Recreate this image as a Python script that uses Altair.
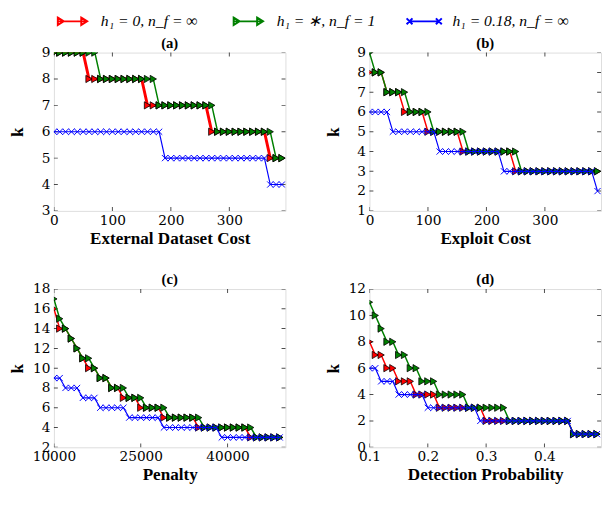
import altair as alt
import pandas as pd

SERIES = ["h₁ = 0, n_f = ∞", "h₁ = ∗, n_f = 1", "h₁ = 0.18, n_f = ∞"]
COLORS = ["#ff0000", "#008000", "#0000ff"]

# ---- panel (a): External Dataset Cost ----
x_a = [0, 10, 20, 30, 40, 50, 60, 70, 80, 90, 100, 110, 120, 130, 140, 150, 160, 170, 180, 190,
       200, 210, 220, 230, 240, 250, 260, 270, 280, 290, 300, 310, 320, 330, 340, 350, 360, 370, 380, 390]
red_a = [9, 9, 9, 9, 9, 9, 8, 8, 8, 8, 8, 8, 8, 8, 8, 8, 7, 7, 7, 7,
         7, 7, 7, 7, 7, 7, 7, 6, 6, 6, 6, 6, 6, 6, 6, 6, 6, 5, 5, 5]
green_a = [9, 9, 9, 9, 9, 9, 9, 9, 8, 8, 8, 8, 8, 8, 8, 8, 8, 8, 7, 7,
           7, 7, 7, 7, 7, 7, 7, 7, 6, 6, 6, 6, 6, 6, 6, 6, 6, 6, 5, 5]
blue_a = [6, 6, 6, 6, 6, 6, 6, 6, 6, 6, 6, 6, 6, 6, 6, 6, 6, 6, 6, 5,
          5, 5, 5, 5, 5, 5, 5, 5, 5, 5, 5, 5, 5, 5, 5, 5, 5, 4, 4, 4]

# ---- panel (b): Exploit Cost ----
x_b = [0, 10, 20, 30, 40, 50, 60, 70, 80, 90, 100, 110, 120, 130, 140, 150, 160, 170, 180, 190,
       200, 210, 220, 230, 240, 250, 260, 270, 280, 290, 300, 310, 320, 330, 340, 350, 360, 370, 380, 390]
red_b = [8, 8, 8, 7, 7, 7, 6, 6, 6, 6, 5, 5, 5, 5, 5, 5, 4, 4, 4, 4,
         4, 4, 4, 4, 4, 3, 3, 3, 3, 3, 3, 3, 3, 3, 3, 3, 3, 3, 3, 3]
green_b = [9, 8, 8, 7, 7, 7, 7, 6, 6, 6, 6, 5, 5, 5, 5, 5, 5, 4, 4, 4,
           4, 4, 4, 4, 4, 4, 3, 3, 3, 3, 3, 3, 3, 3, 3, 3, 3, 3, 3, 3]
blue_b = [6, 6, 6, 6, 5, 5, 5, 5, 5, 5, 5, 5, 4, 4, 4, 4, 4, 4, 4, 4,
          4, 4, 4, 3, 3, 3, 3, 3, 3, 3, 3, 3, 3, 3, 3, 3, 3, 3, 3, 2]

# ---- panel (c): Penalty ----
x_c = [10000, 11000, 12000, 13000, 14000, 15000, 16000, 17000, 18000, 19000,
       20000, 21000, 22000, 23000, 24000, 25000, 26000, 27000, 28000, 29000,
       30000, 31000, 32000, 33000, 34000, 35000, 36000, 37000, 38000, 39000,
       40000, 41000, 42000, 43000, 44000, 45000, 46000, 47000, 48000, 49000]
red_c = [16, 14, 14, 13, 12, 11, 10, 10, 9, 9, 8, 8, 7, 7, 7, 6, 6, 6, 6, 5,
         5, 5, 5, 5, 5, 4, 4, 4, 4, 4, 4, 4, 4, 4, 3, 3, 3, 3, 3, 3]
green_c = [17, 15, 14, 13, 12, 11, 11, 10, 9, 9, 8, 8, 8, 7, 7, 7, 6, 6, 6, 6,
           5, 5, 5, 5, 5, 5, 4, 4, 4, 4, 4, 4, 4, 4, 4, 3, 3, 3, 3, 3]
blue_c = [9, 9, 8, 8, 8, 7, 7, 7, 6, 6, 6, 6, 6, 5, 5, 5, 5, 5, 5, 4,
          4, 4, 4, 4, 4, 4, 4, 4, 4, 3, 3, 3, 3, 3, 3, 3, 3, 3, 3, 3]

# ---- panel (d): Detection Probability ----
x_d = [0.10, 0.11, 0.12, 0.13, 0.14, 0.15, 0.16, 0.17, 0.18, 0.19,
       0.20, 0.21, 0.22, 0.23, 0.24, 0.25, 0.26, 0.27, 0.28, 0.29,
       0.30, 0.31, 0.32, 0.33, 0.34, 0.35, 0.36, 0.37, 0.38, 0.39,
       0.40, 0.41, 0.42, 0.43, 0.44, 0.45, 0.46, 0.47, 0.48, 0.49]
red_d = [8, 7, 7, 6, 6, 5, 5, 5, 4, 4, 4, 4, 3, 3, 3, 3, 3, 3, 3, 3,
         2, 2, 2, 2, 2, 2, 2, 2, 2, 2, 2, 2, 2, 2, 2, 1, 1, 1, 1, 1]
green_d = [11, 10, 9, 8, 8, 7, 7, 6, 6, 5, 5, 5, 4, 4, 4, 4, 4, 3, 3, 3,
           3, 3, 3, 3, 2, 2, 2, 2, 2, 2, 2, 2, 2, 2, 2, 1, 1, 1, 1, 1]
blue_d = [6, 6, 5, 5, 5, 4, 4, 4, 4, 4, 3, 3, 3, 3, 3, 3, 3, 3, 3, 2,
          2, 2, 2, 2, 2, 2, 2, 2, 2, 2, 2, 2, 2, 2, 2, 1, 1, 1, 1, 1]

# legend glyphs: a short line with the series marker at both ends
LEGEND_PATHS = [
    "M-3,0L3,0M-3,-0.75L-1.8,0L-3,0.75ZM1.8,-0.75L3,0L1.8,0.75Z",
    "M-3,0L3,0M-3,-0.75L-1.8,0L-3,0.75ZM1.8,-0.75L3,0L1.8,0.75Z",
    "M-3,0L3,0M-3.6,-0.6L-2.4,0.6M-3.6,0.6L-2.4,-0.6M2.4,-0.6L3.6,0.6M2.4,0.6L3.6,-0.6",
]
XMARK = "M-1,-1L1,1M-1,1L1,-1"

TICK_FONT = "DejaVu Serif"
TITLE_FONT = "Liberation Serif"
W, H = 237, 162


def panel(xs, red, green, blue, title, xtitle, xdom, ydom, xticks, yticks, red_w, xfmt, legend=False):
    df = pd.DataFrame({"x": xs, "red": red, "green": green, "blue": blue})
    xs_scale = alt.Scale(domain=xdom, nice=False, zero=False)
    ys_scale = alt.Scale(domain=ydom, nice=False, zero=False)

    main_x = alt.Axis(orient="bottom", title=xtitle, values=xticks, format=xfmt, ticks=False,
                      domain=False, grid=False, labelFont=TICK_FONT, labelFontSize=14,
                      labelColor="black", titleFont=TITLE_FONT, titleFontSize=17.5,
                      titleFontWeight="bold", titleColor="black", labelPadding=3,
                      titlePadding=2, labelFlush=False)
    main_y = alt.Axis(orient="left", title="k", values=yticks, ticks=False, domain=False,
                      grid=False, labelFont=TICK_FONT, labelFontSize=14, labelColor="black",
                      titleFont=TITLE_FONT, titleFontSize=17.5, titleFontWeight="bold",
                      titleColor="black", labelPadding=4, titlePadding=4, minExtent=24)

    X = alt.X("x:Q", scale=xs_scale, axis=main_x)

    def Y(col):
        return alt.Y(f"{col}:Q", scale=ys_scale, axis=main_y, title="k")

    base = alt.Chart(df)
    xt = alt.Chart(pd.DataFrame({"x": xticks}))
    yt = alt.Chart(pd.DataFrame({"red": yticks}))
    layers = [
        # inward tick marks on all four sides
        xt.mark_tick(color="black", size=8, thickness=1, clip=True).encode(x=X, y=alt.value(H)),
        xt.mark_tick(color="black", size=8, thickness=1, clip=True).encode(x=X, y=alt.value(0)),
        yt.mark_tick(color="black", size=8, thickness=1, clip=True).encode(y=Y("red"), x=alt.value(0)),
        yt.mark_tick(color="black", size=8, thickness=1, clip=True).encode(y=Y("red"), x=alt.value(W)),
        base.mark_line(color=COLORS[0], strokeWidth=red_w, clip=True).encode(x=X, y=Y("red")),
        base.mark_point(shape="triangle-right", filled=True, fill=COLORS[0], stroke="black",
                        strokeWidth=0.8, size=55, opacity=1, clip=True).encode(x=X, y=Y("red")),
        base.mark_line(color=COLORS[1], strokeWidth=1.5, clip=True).encode(x=X, y=Y("green")),
        base.mark_point(shape="triangle-right", filled=True, fill=COLORS[1], stroke="black",
                        strokeWidth=0.8, size=55, opacity=1, clip=True).encode(x=X, y=Y("green")),
        base.mark_line(color=COLORS[2], strokeWidth=1.2, clip=True).encode(x=X, y=Y("blue")),
        base.mark_point(shape=XMARK, filled=False, stroke=COLORS[2], strokeWidth=1,
                        size=40, opacity=1, clip=True).encode(x=X, y=Y("blue")),
    ]
    if legend:
        leg = alt.Legend(orient="none", legendX=11, legendY=-40, direction="horizontal",
                         title=None, symbolSize=100, symbolStrokeWidth=2,
                         symbolFillColor="black", gridAlign="all", padding=0,
                         labelFont=TITLE_FONT, labelFontStyle="italic", labelFontSize=16,
                         labelColor="black", columnPadding=9, labelOffset=21)
        dummy = alt.Chart(pd.DataFrame({"series": SERIES})).transform_filter(
            "datum.series == 'none'").mark_point(filled=False, opacity=1).encode(
            color=alt.Color("series:N", scale=alt.Scale(domain=SERIES, range=COLORS), legend=leg),
            shape=alt.Shape("series:N", scale=alt.Scale(domain=SERIES, range=LEGEND_PATHS),
                            legend=leg),
        )
        layers.append(dummy)

    return alt.layer(*layers).properties(
        width=W, height=H,
        title=alt.TitleParams(title, font=TITLE_FONT, fontSize=15, fontWeight="bold",
                              color="black", offset=-5))


pa = panel(x_a, red_a, green_a, blue_a, "(a)", "External Dataset Cost", [0, 396], [3, 9],
           [0, 100, 200, 300], [3, 4, 5, 6, 7, 8, 9], 3, "d", legend=True)
pb = panel(x_b, red_b, green_b, blue_b, "(b)", "Exploit Cost", [0, 396], [1, 9],
           [0, 100, 200, 300], [1, 2, 3, 4, 5, 6, 7, 8, 9], 1.5, "d")
pc = panel(x_c, red_c, green_c, blue_c, "(c)", "Penalty", [10000, 50000], [2, 18],
           [10000, 25000, 40000], [2, 4, 6, 8, 10, 12, 14, 16, 18], 1.5, "d")
pd_ = panel(x_d, red_d, green_d, blue_d, "(d)", "Detection Probability", [0.1, 0.497], [0, 12],
            [0.1, 0.2, 0.3, 0.4], [0, 2, 4, 6, 8, 10, 12], 1.5, ".1f")

chart = alt.vconcat(
    alt.hconcat(pa, pb, spacing=38),
    alt.hconcat(pc, pd_, spacing=38),
    spacing=25,
).configure_view(stroke="black", strokeWidth=1).configure(
    padding={"left": 0, "top": 0, "right": 0, "bottom": 0})

chart.save("out.html", embed_options={"renderer": "svg", "actions": False})
